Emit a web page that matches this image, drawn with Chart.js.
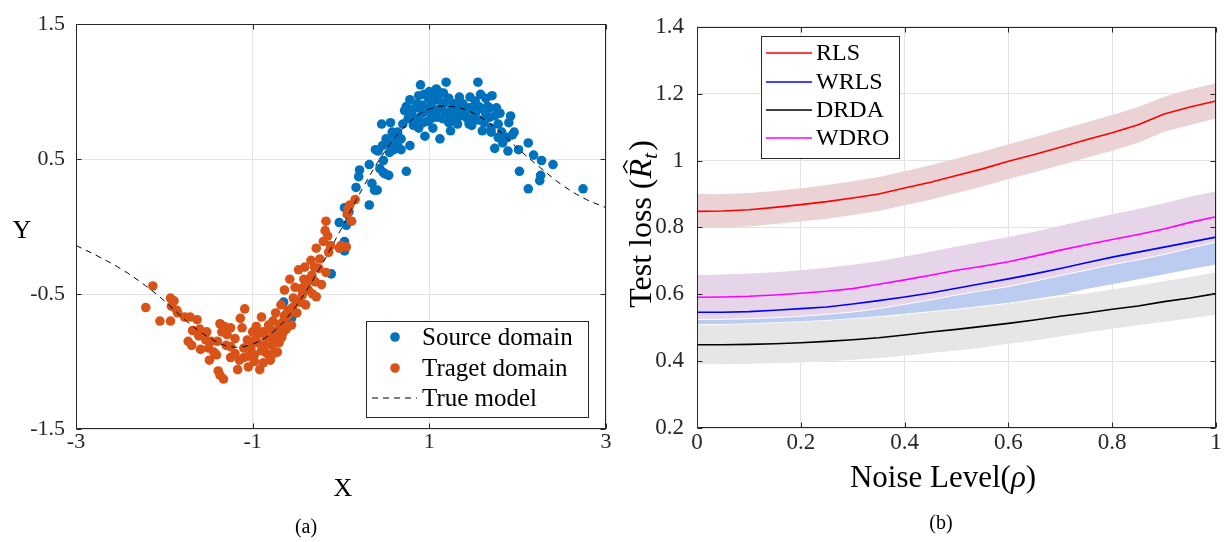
<!DOCTYPE html>
<html>
<head>
<meta charset="utf-8">
<title>Source / target domain and test loss</title>
<script src="https://cdn.jsdelivr.net/npm/chart.js@4.4.1/dist/chart.umd.min.js"></script>
<style>
  body { margin: 0; background: #fff; }
  .panel { position: absolute; top: 0; }
</style>
</head>
<body>
<canvas id="chartA" class="panel" width="612" height="542" style="left:0"></canvas>
<canvas id="chartB" class="panel" width="613" height="542" style="left:612px"></canvas>
<script>
// ---- panel (a) data ----
const xTicksA = [-3, -1, 1, 3];
const yTicksA = [-1.5, -0.5, 0.5, 1.5];

const trueX = [-3, -2.75, -2.5, -2.25, -2, -1.75, -1.5, -1.25, -1, -0.75, -0.5, -0.25, 0,
  0.25, 0.5, 0.75, 1, 1.25, 1.5, 1.75, 2, 2.25, 2.5, 2.75, 3];
const trueY = [-0.14, -0.22, -0.31, -0.42, -0.55, -0.70, -0.82, -0.89, -0.87, -0.77, -0.58, -0.32, -0.02,
  0.29, 0.56, 0.76, 0.87, 0.89, 0.84, 0.73, 0.58, 0.44, 0.31, 0.21, 0.14];

const sourcePts = [
  [-0.65,-0.56],[-0.56,-0.68],[-0.11,-0.35],[0.04,-0.11],[0.04,-0.18],[-0.02,0.03],[0.04,0.14],[0.09,0.11],
  [0.06,0.01],[0.17,0.29],[0.20,0.37],[0.21,0.42],[0.32,0.16],[0.32,0.46],[0.35,0.32],[0.38,0.27],
  [0.41,0.27],[0.39,0.57],[0.42,0.56],[0.44,0.43],[0.48,0.49],[0.48,0.40],[0.50,0.39],[0.54,0.38],
  [0.46,0.76],[0.51,0.65],[0.54,0.61],[0.56,0.77],[0.58,0.70],[0.60,0.57],[0.64,0.61],[0.68,0.65],
  [0.68,0.57],[0.74,0.41],[0.74,0.89],[0.78,0.60],[0.78,0.94],[0.80,0.84],[0.82,0.75],[0.84,0.80],
  [0.86,0.91],[0.88,0.73],[0.90,1.05],[0.92,0.84],[0.94,0.98],[0.95,0.67],[0.98,0.78],[1.00,1.00],
  [1.02,0.91],[1.03,0.87],[1.04,0.73],[1.06,0.94],[1.08,1.02],[1.09,0.81],[1.10,0.87],[1.12,0.65],
  [1.13,0.99],[1.15,0.80],[1.18,0.92],[1.19,1.07],[1.20,0.84],[1.22,0.77],[1.24,0.71],[1.26,0.83],
  [1.28,0.91],[1.30,0.80],[1.32,0.76],[1.34,0.96],[1.36,0.87],[1.39,0.83],[1.42,0.86],[1.44,0.88],
  [1.46,0.96],[1.48,0.75],[1.50,0.81],[1.52,0.84],[1.55,1.07],[1.56,0.89],[1.58,0.98],[1.60,0.71],
  [1.62,0.77],[1.64,0.83],[1.66,0.89],[1.68,0.81],[1.70,0.73],[1.71,0.97],[1.74,0.58],[1.76,0.88],
  [1.78,0.66],[1.80,0.84],[1.82,0.70],[1.83,0.62],[1.89,0.56],[1.88,0.66],[1.90,0.77],[1.92,0.82],
  [1.94,0.68],[1.96,0.70],[2.01,0.57],[2.02,0.41],[2.12,0.62],[2.12,0.28],[2.18,0.53],[2.25,0.34],
  [2.26,0.38],[2.27,0.49],[2.40,0.46],[2.74,0.28],
  [0.72,0.86],[0.76,0.80],[0.84,0.88],[0.88,0.97],[0.92,0.90],[0.96,0.86],[0.99,0.95],[1.02,0.80],
  [1.05,0.99],[1.07,0.86],[1.10,0.94],[1.14,0.88],[1.17,0.82],[1.22,0.95],[1.25,0.87],[1.28,0.78],
  [1.31,0.90],[1.35,0.82],[1.38,0.91],[1.43,0.80],[1.47,0.88],[1.52,0.93],[1.56,0.79],[1.60,0.87],
  [1.64,0.95],[1.68,0.88],[1.74,0.82],[1.78,0.76],[0.64,0.70],[0.70,0.76],[0.60,0.66],[0.55,0.55],
  [0.47,0.60],[0.86,0.80],[0.93,0.77],[1.00,0.85],[1.16,0.99],[1.33,0.85],[1.45,0.76],[1.70,0.70]
];

const targetPts = [
  [-2.21,-0.60],[-2.13,-0.44],[-2.05,-0.70],[-1.93,-0.70],[-1.93,-0.53],[-1.89,-0.55],[-1.86,-0.62],[-1.92,-0.59],
  [-1.85,-0.64],[-1.77,-0.67],[-1.71,-0.67],[-1.63,-0.69],[-1.73,-0.85],[-1.69,-0.88],[-1.68,-0.77],[-1.61,-0.81],
  [-1.59,-0.91],[-1.52,-0.78],[-1.49,-0.99],[-1.53,-0.84],[-1.47,-0.85],[-1.44,-0.93],[-1.41,-0.95],[-1.37,-0.72],
  [-1.35,-0.78],[-1.37,-1.10],[-1.33,-1.13],[-1.39,-1.07],[-1.32,-0.74],[-1.29,-0.80],[-1.25,-0.89],[-1.25,-0.97],
  [-1.20,-0.94],[-1.17,-1.06],[-1.14,-0.68],[-1.12,-0.75],[-1.09,-0.61],[-1.10,-0.97],[-1.06,-0.84],[-1.05,-1.04],
  [-1.02,-0.90],[-1.00,-0.78],[-0.98,-0.95],[-0.96,-0.74],[-0.94,-0.86],[-0.92,-1.06],[-0.90,-0.67],[-0.88,-0.78],
  [-0.86,-0.88],[-0.84,-0.94],[-0.82,-0.73],[-0.80,-0.99],[-0.78,-0.83],[-0.76,-0.94],[-0.77,-0.70],[-0.74,-0.64],
  [-0.72,-0.79],[-0.70,-0.86],[-0.68,-0.72],[-0.68,-0.58],[-0.65,-0.78],[-0.64,-0.47],[-0.64,-0.66],[-0.60,-0.62],
  [-0.58,-0.39],[-0.56,-0.73],[-0.54,-0.53],[-0.52,-0.45],[-0.50,-0.64],[-0.48,-0.32],[-0.46,-0.56],[-0.44,-0.51],
  [-0.42,-0.39],[-0.41,-0.30],[-0.40,-0.58],[-0.37,-0.47],[-0.34,-0.25],[-0.33,-0.36],[-0.32,-0.50],[-0.29,-0.41],
  [-0.28,-0.52],[-0.28,-0.16],[-0.25,-0.31],[-0.24,-0.24],[-0.22,-0.43],[-0.20,-0.11],[-0.17,0.04],[-0.18,-0.03],
  [-0.17,-0.34],[-0.15,-0.07],[-0.14,-0.19],[-0.12,-0.14],[-0.02,-0.16],[0.00,-0.14],[0.07,0.09],[0.06,-0.15],
  [0.08,0.13],[0.10,0.16],[0.12,0.04],[0.16,0.20],
  [-1.30,-0.88],[-1.20,-0.83],[-1.10,-0.90],[-1.00,-0.85],[-0.95,-0.80],[-0.90,-0.92],[-0.85,-0.82],[-0.80,-0.76],
  [-0.75,-0.80],[-0.70,-0.75],[-0.65,-0.70],[-0.60,-0.66],[-0.55,-0.60],[-0.50,-0.56],[-0.45,-0.46],[-0.40,-0.42],
  [-0.35,-0.40],[-0.30,-0.30],[-1.15,-0.99],[-1.05,-0.96],[-0.98,-1.00],[-0.88,-1.01],[-1.40,-0.85],[-1.50,-0.90],
  [-1.60,-0.76],[-1.25,-0.75],[-0.78,-0.88],[-0.72,-0.93],[-0.67,-0.82],[-0.62,-0.76]
];

// ---- panel (b) data ----
const xTicksB = [0, 0.2, 0.4, 0.6, 0.8, 1];
const yTicksB = [0.2, 0.4, 0.6, 0.8, 1, 1.2, 1.4];
const noise = [0, 0.05, 0.1, 0.15, 0.2, 0.25, 0.3, 0.35, 0.4, 0.45, 0.5, 0.55, 0.6, 0.65, 0.7, 0.75, 0.8, 0.85, 0.9, 0.95, 1];

const rls    = [0.848,0.849,0.853,0.860,0.868,0.877,0.888,0.900,0.918,0.935,0.955,0.975,0.998,1.018,1.040,1.062,1.083,1.107,1.139,1.160,1.178];
const rlsHi  = [0.900,0.900,0.903,0.909,0.917,0.927,0.938,0.951,0.968,0.986,1.006,1.026,1.049,1.070,1.092,1.114,1.136,1.160,1.191,1.213,1.231];
const rlsLo  = [0.800,0.800,0.803,0.810,0.818,0.826,0.837,0.849,0.866,0.883,0.903,0.922,0.945,0.965,0.986,1.008,1.029,1.053,1.086,1.106,1.126];

const wrls   = [0.546,0.546,0.548,0.552,0.557,0.562,0.571,0.581,0.592,0.604,0.618,0.632,0.646,0.661,0.677,0.694,0.711,0.726,0.741,0.756,0.771];
const wrlsHi = [0.581,0.581,0.583,0.588,0.595,0.601,0.614,0.628,0.642,0.659,0.679,0.698,0.717,0.736,0.756,0.772,0.792,0.807,0.822,0.837,0.853];
const wrlsLo = [0.511,0.511,0.513,0.516,0.519,0.523,0.528,0.534,0.542,0.549,0.557,0.566,0.575,0.586,0.598,0.616,0.630,0.645,0.660,0.675,0.689];

const drda   = [0.449,0.449,0.450,0.452,0.455,0.459,0.464,0.470,0.478,0.487,0.495,0.504,0.513,0.523,0.534,0.544,0.555,0.565,0.578,0.589,0.602];
const drdaHi = [0.509,0.509,0.511,0.514,0.517,0.521,0.526,0.531,0.538,0.546,0.554,0.563,0.572,0.582,0.592,0.602,0.614,0.626,0.639,0.652,0.666];
const drdaLo = [0.391,0.391,0.392,0.394,0.396,0.400,0.404,0.409,0.416,0.424,0.432,0.441,0.452,0.462,0.474,0.486,0.497,0.507,0.518,0.528,0.539];

const wdro   = [0.591,0.592,0.594,0.598,0.603,0.609,0.617,0.630,0.643,0.657,0.672,0.684,0.697,0.714,0.732,0.748,0.764,0.779,0.795,0.815,0.832];
const wdroHi = [0.658,0.659,0.662,0.666,0.672,0.679,0.688,0.699,0.713,0.727,0.743,0.757,0.771,0.787,0.805,0.822,0.839,0.855,0.872,0.892,0.908];
const wdroLo = [0.525,0.525,0.527,0.530,0.534,0.540,0.547,0.557,0.570,0.583,0.598,0.611,0.623,0.639,0.656,0.672,0.689,0.703,0.719,0.738,0.756];

// ---- look ----
const SERIF = '"Liberation Serif", "Times New Roman", serif';
const INK = '#262626';
const GRID = '#e3e3e3';
Chart.defaults.font.family = SERIF;

// axes box with inward tick marks (matlab style)
const framePlugin = {
  id: 'frame',
  afterDatasetsDraw(chart) {
    const { ctx, chartArea: a, scales } = chart;
    const L = Math.round(a.left) + 0.5, R = Math.round(a.right) - 0.5;
    const T = Math.round(a.top) + 0.5, B = Math.round(a.bottom) - 0.5;
    ctx.save();
    ctx.strokeStyle = INK;
    ctx.lineWidth = 1;
    ctx.strokeRect(L, T, R - L, B - T);
    ctx.beginPath();
    scales.x.ticks.forEach(t => {
      const px = Math.round(scales.x.getPixelForValue(t.value)) + 0.5;
      ctx.moveTo(px, B); ctx.lineTo(px, B - 5);
      ctx.moveTo(px, T); ctx.lineTo(px, T + 5);
    });
    scales.y.ticks.forEach(t => {
      const py = Math.round(scales.y.getPixelForValue(t.value)) + 0.5;
      ctx.moveTo(L, py); ctx.lineTo(L + 5, py);
      ctx.moveTo(R, py); ctx.lineTo(R - 5, py);
    });
    ctx.stroke();
    ctx.restore();
  }
};

// boxed legend placed inside the axes
const boxLegend = {
  id: 'boxLegend',
  afterDraw(chart, args, o) {
    if (!o.items) return;
    const ctx = chart.ctx;
    ctx.save();
    ctx.fillStyle = '#ffffff';
    ctx.fillRect(o.left, o.top, o.right - o.left, o.bottom - o.top);
    ctx.strokeStyle = INK;
    ctx.lineWidth = 1;
    ctx.strokeRect(o.left + 0.5, o.top + 0.5, o.right - o.left, o.bottom - o.top);
    ctx.font = o.font;
    ctx.textBaseline = 'middle';
    ctx.textAlign = 'left';
    o.items.forEach((it, i) => {
      const yy = o.rows[i];
      if (it.dot) {
        ctx.fillStyle = it.color;
        ctx.beginPath();
        ctx.arc(o.markX, yy, 4.8, 0, Math.PI * 2);
        ctx.fill();
      } else {
        ctx.strokeStyle = it.color;
        ctx.lineWidth = it.width || 1.5;
        ctx.setLineDash(it.dash || []);
        ctx.beginPath();
        ctx.moveTo(o.lineX0, yy);
        ctx.lineTo(o.lineX1, yy);
        ctx.stroke();
        ctx.setLineDash([]);
      }
      ctx.fillStyle = '#000';
      ctx.fillText(it.text, o.textX, yy + 1);
    });
    ctx.restore();
  }
};

// draw a run of text pieces centred on (cx) with baseline (base), optionally rotated
function drawParts(ctx, parts, cx, base, rotate) {
  ctx.save();
  ctx.translate(cx, base);
  if (rotate) ctx.rotate(-Math.PI / 2);
  ctx.fillStyle = '#000';
  ctx.strokeStyle = '#000';
  ctx.textBaseline = 'alphabetic';
  ctx.textAlign = 'left';
  const widths = parts.map(p => { ctx.font = p.font; return ctx.measureText(p.t).width + (p.gap || 0); });
  let u = -widths.reduce((s, w) => s + w, 0) / 2;
  parts.forEach((p, i) => {
    ctx.font = p.font;
    ctx.fillText(p.t, u, p.dy || 0);
    if (p.hat) {
      const hx = u + widths[i] * 0.6, sz = p.size;
      ctx.lineWidth = 1.4;
      ctx.beginPath();
      ctx.moveTo(hx - 0.2 * sz, -0.74 * sz);
      ctx.lineTo(hx, -0.86 * sz);
      ctx.lineTo(hx + 0.2 * sz, -0.74 * sz);
      ctx.stroke();
    }
    u += widths[i];
  });
  ctx.restore();
}

const captions = {
  id: 'captions',
  afterDraw(chart, args, o) {
    (o.labels || []).forEach(l => drawParts(chart.ctx, l.parts, l.x, l.y, l.rotate));
  }
};

const f = (size, style) => `${style ? style + ' ' : ''}${size}px ${SERIF}`;

// ---- panel (a) ----
new Chart(document.getElementById('chartA'), {
  type: 'scatter',
  data: {
    datasets: [
      {
        label: 'True model', type: 'line',
        data: trueX.map((x, i) => ({ x, y: trueY[i] })),
        borderColor: '#000000', borderWidth: 1, borderDash: [6, 5],
        pointRadius: 0, tension: 0.4, fill: false, order: 0
      },
      {
        label: 'Traget domain',
        data: targetPts.map(([x, y]) => ({ x, y })),
        backgroundColor: '#D95319', pointRadius: 4.8, borderWidth: 0, order: 1
      },
      {
        label: 'Source domain',
        data: sourcePts.map(([x, y]) => ({ x, y })),
        backgroundColor: '#0072BD', pointRadius: 4.8, borderWidth: 0, order: 2
      }
    ]
  },
  options: {
    responsive: false, animation: false, events: [],
    layout: { padding: { left: 0, right: 6, top: 20, bottom: 0 } },
    plugins: {
      legend: { display: false },
      tooltip: { enabled: false },
      boxLegend: {
        left: 366, top: 321, right: 588, bottom: 417,
        rows: [337, 368, 398], markX: 395, lineX0: 372, lineX1: 417, textX: 422,
        font: f(25),
        items: [
          { text: 'Source domain', color: '#0072BD', dot: true },
          { text: 'Traget domain', color: '#D95319', dot: true },
          { text: 'True model', color: '#000000', dash: [6, 5], width: 1 }
        ]
      },
      captions: {
        labels: [
          { parts: [{ t: 'X', font: f(26) }], x: 343, y: 496 },
          { parts: [{ t: 'Y', font: f(26) }], x: 22, y: 238 },
          { parts: [{ t: '(a)', font: f(20) }], x: 306, y: 533 }
        ]
      }
    },
    scales: {
      x: {
        type: 'linear', min: -3, max: 3,
        afterBuildTicks: s => { s.ticks = xTicksA.map(v => ({ value: v })); },
        afterFit: s => { s.height = 113; },
        ticks: { callback: v => String(v), font: { size: 22 }, color: INK, padding: 0, maxRotation: 0, autoSkip: false },
        grid: { color: GRID, drawTicks: false },
        border: { display: false }
      },
      y: {
        type: 'linear', min: -1.5, max: 1.5,
        afterBuildTicks: s => { s.ticks = yTicksA.map(v => ({ value: v })); },
        afterFit: s => { s.width = 76; },
        ticks: { callback: v => String(v), font: { size: 22 }, color: INK, padding: 11, autoSkip: false },
        grid: { color: GRID, drawTicks: false },
        border: { display: false }
      }
    }
  },
  plugins: [framePlugin, boxLegend, captions]
});

// ---- panel (b) ----
const pts = arr => noise.map((x, i) => ({ x, y: arr[i] }));
const line = (label, arr, color) => ({
  label, data: pts(arr), borderColor: color, borderWidth: 1.6,
  pointRadius: 0, tension: 0, fill: false, order: 0
});
const band = (hi, lo, color, order, edge) => [
  { data: pts(hi), borderColor: 'rgba(0,0,0,0)', borderWidth: 0, backgroundColor: color,
    pointRadius: 0, tension: 0, fill: '+1', order },
  { data: pts(lo), borderColor: edge || 'rgba(0,0,0,0)', borderWidth: edge ? 1 : 0,
    pointRadius: 0, tension: 0, fill: false, order: edge ? 0.5 : order }
];

new Chart(document.getElementById('chartB'), {
  type: 'line',
  data: {
    datasets: [
      line('RLS', rls, '#ff0000'),
      line('WRLS', wrls, '#0000ff'),
      line('DRDA', drda, '#000000'),
      line('WDRO', wdro, '#ff00ff'),
      ...band(rlsHi, rlsLo, '#ebd3d5', 5),
      ...band(drdaHi, drdaLo, '#e6e6e6', 4),
      ...band(wrlsHi, wrlsLo, '#bccbf0', 3),
      ...band(wdroHi, wdroLo, '#e6d4e8', 2, '#ffffff')
    ]
  },
  options: {
    responsive: false, animation: false, events: [],
    layout: { padding: { left: 0, right: 9, top: 22, bottom: 0 } },
    plugins: {
      legend: { display: false },
      tooltip: { enabled: false },
      filler: { propagate: false },
      boxLegend: {
        left: 149, top: 36, right: 287, bottom: 158,
        rows: [53, 82, 110, 138], lineX0: 154, lineX1: 200, textX: 204,
        font: f(24),
        items: [
          { text: 'RLS', color: '#ff0000' },
          { text: 'WRLS', color: '#0000ff' },
          { text: 'DRDA', color: '#000000' },
          { text: 'WDRO', color: '#ff00ff' }
        ]
      },
      captions: {
        labels: [
          { parts: [{ t: 'Noise Level(', font: f(31) }, { t: 'ρ', font: f(31, 'italic') }, { t: ')', font: f(31) }], x: 331, y: 487 },
          { parts: [
              { t: 'Test loss (', font: f(32) },
              { t: 'R', font: f(32, 'italic'), hat: true, size: 32 },
              { t: 't', font: f(22, 'italic'), dy: 6, gap: 2 },
              { t: ')', font: f(32) }
            ], x: 39, y: 224, rotate: true },
          { parts: [{ t: '(b)', font: f(20) }], x: 329, y: 529 }
        ]
      }
    },
    scales: {
      x: {
        type: 'linear', min: 0, max: 1,
        afterBuildTicks: s => { s.ticks = xTicksB.map(v => ({ value: v })); },
        afterFit: s => { s.height = 114; },
        ticks: { callback: v => String(v), font: { size: 23 }, color: INK, padding: 1, maxRotation: 0, autoSkip: false },
        grid: { color: GRID, drawTicks: false },
        border: { display: false }
      },
      y: {
        type: 'linear', min: 0.2, max: 1.4,
        afterBuildTicks: s => { s.ticks = yTicksB.map(v => ({ value: v })); },
        afterFit: s => { s.width = 85; },
        ticks: { callback: v => String(v), font: { size: 23 }, color: INK, padding: 13, autoSkip: false },
        grid: { color: GRID, drawTicks: false },
        border: { display: false }
      }
    }
  },
  plugins: [framePlugin, boxLegend, captions]
});
</script>
</body>
</html>
